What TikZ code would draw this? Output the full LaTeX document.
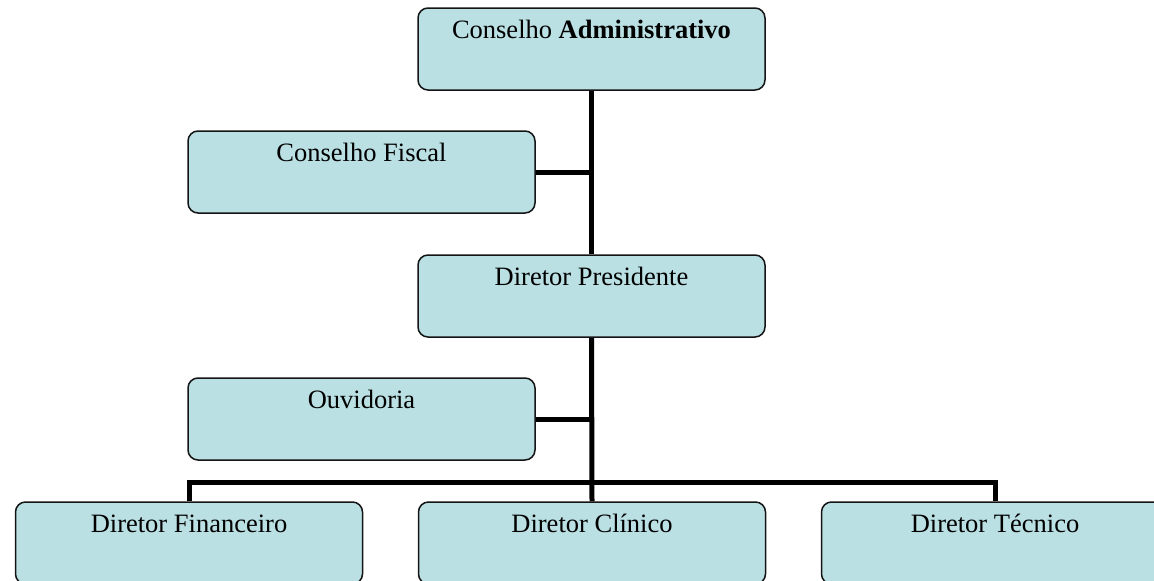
\documentclass[tikz,border=0pt]{standalone}
\usepackage{fontspec}
\setmainfont{Liberation Serif}
\usetikzlibrary{backgrounds}
\definecolor{boxfill}{RGB}{186,224,227}
\definecolor{boxline}{RGB}{20,20,20}
\begin{document}
\begin{tikzpicture}[x=1pt,y=-1pt,
  orgbox/.style={draw=boxline, line width=1.5pt, fill=boxfill, rounded corners=10pt,
    minimum width=347pt, inner sep=0pt, text height=30pt, text depth=52pt,
    font=\fontsize{26.5}{30}\selectfont},
  conn/.style={line width=5pt, black}]
\useasboundingbox (0,0) rectangle (1154,581);
\clip (0,0) rectangle (1154,581);
\node[orgbox] (ca) at (591.5,49) {Conselho \textbf{Administrativo}};
\node[orgbox] (cf) at (361.5,172) {Conselho Fiscal};
\node[orgbox] (dp) at (591.5,296) {Diretor Presidente};
\node[orgbox] (ov) at (361.5,419) {Ouvidoria};
\node[orgbox] (df) at (189,543) {Diretor Financeiro};
\node[orgbox] (dc) at (592,543) {Diretor Clínico};
\node[orgbox] (dt) at (995,543) {Diretor Técnico};
\coordinate (bus) at (592,482);
\begin{scope}[on background layer]
\draw[conn] (ca.south) -- (dp.north);
\draw[conn] (cf.east) -- (cf.east -| ca.south);
\draw[conn] (dp.south) -- (dc.north);
\draw[conn] (ov.east) -- (ov.east -| dp.south);
\draw[conn] (df.north) |- (bus) -| (dt.north);
\end{scope}
\end{tikzpicture}
\end{document}
